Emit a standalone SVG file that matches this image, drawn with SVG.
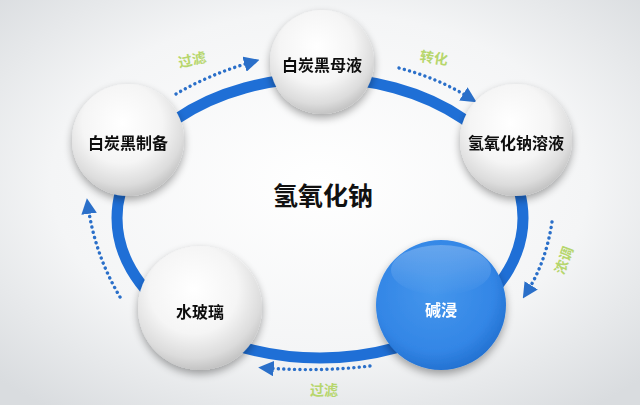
<svg xmlns="http://www.w3.org/2000/svg" width="640" height="405" viewBox="0 0 640 405">
<defs>
<radialGradient id="bg" cx="50%" cy="45%" r="70%">
<stop offset="0" stop-color="#ffffff"/>
<stop offset="0.6" stop-color="#f4f5f6"/>
<stop offset="1" stop-color="#d9dcdf"/>
</radialGradient>
<radialGradient id="ball" cx="45%" cy="35%" r="65%">
<stop offset="0" stop-color="#ffffff"/>
<stop offset="0.55" stop-color="#f5f5f5"/>
<stop offset="0.85" stop-color="#dcdcdc"/>
<stop offset="1" stop-color="#c4c4c4"/>
</radialGradient>
<radialGradient id="blueball" cx="45%" cy="40%" r="65%">
<stop offset="0" stop-color="#4596ec"/>
<stop offset="0.7" stop-color="#3386e6"/>
<stop offset="1" stop-color="#1f6ccc"/>
</radialGradient>
<linearGradient id="gloss" x1="0" y1="0" x2="0" y2="1">
<stop offset="0" stop-color="#ffffff" stop-opacity="0.8"/>
<stop offset="1" stop-color="#ffffff" stop-opacity="0"/>
</linearGradient>
<filter id="sh" x="-30%" y="-30%" width="160%" height="170%">
<feGaussianBlur in="SourceAlpha" stdDeviation="4"/>
<feOffset dx="0" dy="4" result="b"/>
<feComponentTransfer><feFuncA type="linear" slope="0.35"/></feComponentTransfer>
<feMerge><feMergeNode/><feMergeNode in="SourceGraphic"/></feMerge>
</filter>
<marker id="ah" viewBox="0 0 10 10" refX="5" refY="5" markerWidth="4.6" markerHeight="4.6" orient="auto">
<path d="M0,0 L10,5 L0,10 z" fill="#2a6fc9"/>
</marker>
</defs>
<style>
.lbl{font-family:"Noto Sans CJK SC","Noto Sans",sans-serif;font-size:16px;font-weight:bold;fill:#111111;text-anchor:middle;dominant-baseline:central}
.dot{fill:none;stroke:#2a6fc9;stroke-width:3.4;stroke-dasharray:0.1 5.3;stroke-linecap:round}
.step{font-family:"Noto Sans CJK SC",sans-serif;font-size:14px;font-weight:bold;fill:#b6d66c;text-anchor:middle;dominant-baseline:central}
</style>
<rect width="640" height="405" fill="url(#bg)"/>
<ellipse id="ring" cx="320" cy="218" rx="203" ry="140" fill="none" stroke="#1f6fd6" stroke-width="11"/>
<text x="323" y="194" font-family="Noto Sans CJK SC,sans-serif" font-size="25" font-weight="bold" fill="#111" text-anchor="middle" dominant-baseline="central">氢氧化钠</text>
<g id="connectors">
<path class="dot" d="M176,94 Q210,74 252,62" marker-end="url(#ah)"/>
<path class="dot" d="M399,68 Q438,78 470,98" marker-end="url(#ah)"/>
<path class="dot" d="M552,222 Q546,262 527,292" marker-end="url(#ah)"/>
<path class="dot" d="M370,366 Q320,372 266,368" marker-end="url(#ah)"/>
<path class="dot" d="M120,297 Q95,255 88,206" marker-end="url(#ah)"/>
<text class="step" x="192" y="59" transform="rotate(-12 192 59)">过滤</text>
<text class="step" x="434" y="57" transform="rotate(8 434 57)">转化</text>
<text class="step" x="563" y="260" transform="rotate(-70 563 260)">浓调</text>
<text class="step" x="324" y="389">过滤</text>
</g>
<g id="n1" filter="url(#sh)">
<circle cx="322" cy="62" r="52" fill="url(#ball)"/>
<text class="lbl" x="322" y="64">白炭黑母液</text>
</g>
<g id="n2" filter="url(#sh)">
<circle cx="128" cy="140" r="56" fill="url(#ball)"/>
<text class="lbl" x="128" y="142">白炭黑制备</text>
</g>
<g id="n3" filter="url(#sh)">
<circle cx="516" cy="140" r="56" fill="url(#ball)"/>
<text class="lbl" x="516" y="142">氢氧化钠溶液</text>
</g>
<g id="n4" filter="url(#sh)">
<circle cx="441" cy="305" r="65" fill="url(#blueball)"/>
<ellipse cx="441" cy="270" rx="50" ry="25" fill="url(#gloss)" opacity="0.3"/>
<text class="lbl" x="441" y="309" style="fill:#ffffff">碱浸</text>
</g>
<g id="n5" filter="url(#sh)">
<circle cx="200" cy="308" r="62" fill="url(#ball)"/>
<text class="lbl" x="200" y="311">水玻璃</text>
</g>
</svg>
